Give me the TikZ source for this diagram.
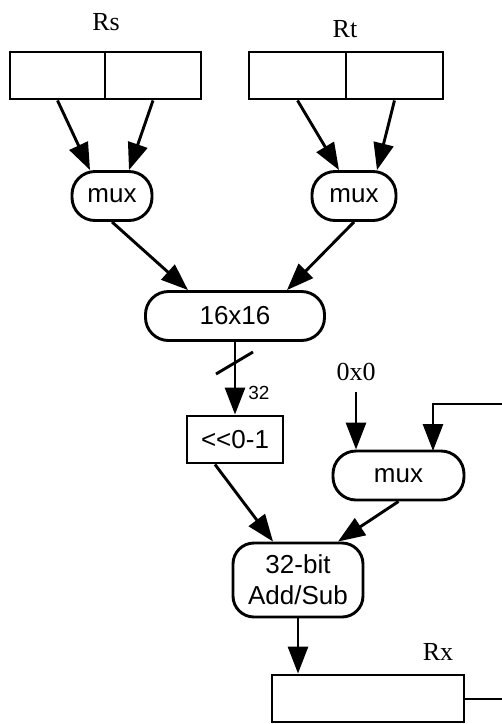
\documentclass[tikz,border=0pt]{standalone}
\usepackage{fontspec}
\setmainfont{Liberation Serif}
\setsansfont{Liberation Sans}
\usetikzlibrary{arrows.meta}
\begin{document}
\begin{tikzpicture}[x=1pt,y=-1pt,
  line width=2.9pt,
  reg/.style={draw,rectangle,inner sep=0pt,minimum height=47pt},
  pill/.style={draw,rectangle,rounded corners=23pt,inner sep=0pt,minimum height=49pt,font=\sffamily\fontsize{26}{31}\selectfont},
  box/.style={draw,rectangle,inner sep=0pt,font=\sffamily\fontsize{26}{31}\selectfont},
  lbl/.style={inner sep=0pt,anchor=base,font=\rmfamily\fontsize{26}{31}\selectfont},
  arr/.style={-{Triangle[length=27pt,width=20pt]}}]
\useasboundingbox (0,0) rectangle (502,724);
% registers
\node[reg,minimum width=95pt] (rsL) at (57.5,75.5) {};
\node[reg,minimum width=96pt] (rsR) at (153,75.5) {};
\node[reg,minimum width=97pt] (rtL) at (297.5,75.5) {};
\node[reg,minimum width=97pt] (rtR) at (394.5,75.5) {};
\node[lbl] (rs) at (106,30) {Rs};
\node[lbl] (rt) at (345,37) {Rt};
% muxes
\node[pill,minimum width=80pt] (mux1) at (112,196) {mux};
\node[pill,minimum width=84pt] (mux2) at (354,196) {mux};
\node[pill,minimum width=179pt] (mul) at (235,316) {16x16};
\node[box,minimum width=96pt,minimum height=47pt] (shift) at (235,439.5) {{<}{<}0-1};
\node[lbl] (zero) at (356,380) {0x0};
\node[pill,minimum width=131pt] (mux3) at (398.5,475.5) {mux};
\node[pill,rounded corners=21pt,minimum width=130pt,minimum height=74pt,align=center] (add) at (298,580) {32-bit\\Add/Sub};
\node[reg,minimum width=192pt,minimum height=47pt] (rx) at (368,698.5) {};
\node[lbl] (rxl) at (438,660) {Rx};
\node[inner sep=0pt,anchor=base,font=\sffamily\fontsize{19}{22}\selectfont] (w32) at (259,399) {32};
\coordinate (zsrc) at (356,392);
% arrows
\draw[arr] (rsL.south) -- ([xshift=-22pt]mux1.north);
\draw[arr] (rsR.south) -- ([xshift=17pt]mux1.north);
\draw[arr] (rtL.south) -- ([xshift=-15pt]mux2.north);
\draw[arr] (rtR.south) -- ([xshift=23pt]mux2.north);
\draw[arr] (mux1.south) -- ([xshift=-47pt]mul.north);
\draw[arr] (mux2.south) -- ([xshift=52pt]mul.north);
\draw[arr] (mul.south) -- (shift.north);
\draw (216,374) -- (253,352);
\draw[arr] (zsrc) -- (zsrc |- mux3.north);
\draw[arr] ([xshift=-20pt]shift.south) -- ([xshift=-25pt]add.north);
\draw[arr] (mux3.south) -- ([xshift=40pt]add.north);
\draw[arr] (add.south) -- (add.south |- rx.north);
\begin{scope}
\clip (0,0) rectangle (502,724);
\coordinate (fbr) at (520,699);
\draw[arr] (rx.east |- fbr) -- (fbr) -- (520,404) -- (433,404) -- (433,451);
\end{scope}
\end{tikzpicture}
\end{document}
